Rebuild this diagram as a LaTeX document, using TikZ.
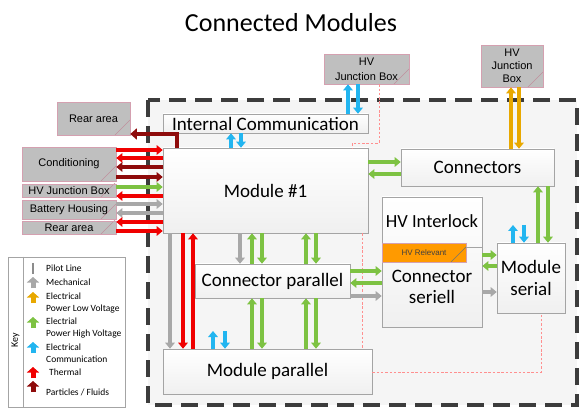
\documentclass[tikz,border=0pt]{standalone}
\usepackage{fontspec}
\setmainfont{Carlito}
\newfontfamily\arialfont{Liberation Sans}
\usetikzlibrary{arrows.meta}

\definecolor{cRed}{HTML}{F00000}
\definecolor{cDark}{HTML}{8E0B0B}
\definecolor{cGreen}{HTML}{7DC242}
\definecolor{cCyan}{HTML}{22B5F0}
\definecolor{cAmber}{HTML}{E8A800}
\definecolor{cGray}{HTML}{A8A8A8}
\definecolor{cOrange}{HTML}{FF9A00}
\definecolor{boxLine}{HTML}{A4A4A4}
\definecolor{extFill}{HTML}{BFBFBF}
\definecolor{extLine}{HTML}{D4A0B0}
\definecolor{pilotCol}{HTML}{FF8F8F}
\definecolor{borderCol}{HTML}{3C3C3C}

\begin{document}
\begin{tikzpicture}[x=1pt,y=-1pt,
  modbox/.style={draw=boxLine, line width=0.6pt, top color=white, bottom color=black!6,
    inner sep=0pt, align=center, font=\fontsize{19}{22}\selectfont},
  extbox/.style={draw=extLine, line width=0.6pt, fill=extFill, inner sep=0pt, align=center,
    font=\arialfont\fontsize{11}{14}\selectfont,
    path picture={\draw[extLine!90!black, line width=0.4pt]
      ([xshift=-15pt]path picture bounding box.south east) --
      ([yshift=15pt]path picture bounding box.south east);}},
  flow/.style={line width=4pt, -{Triangle[width=9.5pt,length=6pt]}},
  thermal/.style={flow, draw=cRed},
  fluid/.style={flow, draw=cDark},
  hvflow/.style={flow, draw=cGreen},
  lvflow/.style={flow, draw=cAmber},
  comflow/.style={flow, draw=cCyan},
  mechflow/.style={flow, draw=cGray},
  pilotline/.style={draw=pilotCol, line width=0.6pt, dash pattern=on 2.5pt off 1.8pt},
  keyarrow/.style={line width=5pt, -{Triangle[width=12pt,length=5.5pt]}},
  keytext/.style={anchor=west, inner sep=0pt, align=left, font=\fontsize{9.5}{11.5}\selectfont}]

\useasboundingbox (0,0) rectangle (579,409);

% title
\node[font=\fontsize{26}{30}\selectfont] (title) at (291,23) {Connected Modules};

% system boundary
\draw[draw=borderCol, fill=black!4, line width=3.5pt, dash pattern=on 17pt off 9pt]
  (148,100) rectangle (577,405);

% modules and connectors inside the boundary
\node[modbox, minimum width=205pt, minimum height=85pt] (m1) at (265.5,190.5) {Module \#1};
\node[modbox, minimum width=205pt, minimum height=19pt] (ic) at (265.5,123.5) {Internal Communication};
\node[modbox, minimum width=153pt, minimum height=37pt] (conn) at (477.5,167.5) {Connectors};
\node[modbox, minimum width=100pt, minimum height=130pt] (hvi) at (432,262) {};
\node[inner sep=0pt, font=\fontsize{18.5}{22}\selectfont] (hvil) at (432,221) {HV Interlock};
\node[draw=extLine, line width=0.5pt, fill=cOrange, inner sep=0pt,
  minimum width=84pt, minimum height=19pt, text=black!75,
  font=\arialfont\fontsize{8}{9}\selectfont,
  path picture={\draw[black!55, line width=0.4pt]
      ([xshift=-15pt]path picture bounding box.south east) --
      ([yshift=15pt]path picture bounding box.south east);}]
  (hvr) at (424,252.5) {HV Relevant};
\draw[boxLine, line width=0.6pt] (hvr.east |- 0,247) -- (hvi.east |- 0,247);
\node[inner sep=0pt, align=center, font=\fontsize{19}{21}\selectfont] (csl) at (432,287) {Connector\\seriell};
\node[modbox, minimum width=68pt, minimum height=70pt, font=\fontsize{19}{22}\selectfont] (ms) at (531,278) {Module\\serial};
\node[modbox, minimum width=155pt, minimum height=34pt] (cp) at (272.5,281) {Connector parallel};
\node[modbox, minimum width=209pt, minimum height=45pt] (mp) at (267.5,371.5) {Module parallel};

% external parts
\node[extbox, minimum width=85pt, minimum height=30pt, font=\arialfont\fontsize{11}{15}\selectfont] (hvj1) at (366.5,69) {HV\\Junction Box};
\node[extbox, minimum width=62pt, minimum height=42pt, font=\arialfont\fontsize{11}{13}\selectfont] (hvj2) at (512,66) {HV\\Junction\\Box};
\node[extbox, minimum width=73pt, minimum height=33pt] (ra1) at (93.5,118.5) {Rear area};
\node[extbox, minimum width=94pt, minimum height=34pt] (cond) at (69,164) {Conditioning};
\node[extbox, minimum width=94pt, minimum height=13pt] (hvj3) at (69,190.5) {HV Junction Box};
\node[extbox, minimum width=94pt, minimum height=19pt] (bh) at (69,209.5) {Battery Housing};
\node[extbox, minimum width=94pt, minimum height=13pt] (ra2) at (69,227.5) {Rear area};

% pilot lines
\draw[pilotline] (hvj1.south -| 379,0) |- (352,143) -- (m1.north -| 352,0);
\draw[pilotline] (m1.south -| 362,0) -- (mp.north -| 362,0);
\draw[pilotline] (mp.east |- 0,372) -| (ms.south -| 541,0);

% flows between the outside parts and module #1
\draw[thermal]  (cond.east |- 0,150) -- (m1.west |- 0,150);
\draw[thermal]  (m1.west |- 0,158) -- (cond.east |- 0,158);
\draw[fluid]    (m1.west |- 0,167) -- (cond.east |- 0,167);
\draw[fluid]    (cond.east |- 0,177) -- (m1.west |- 0,177);
\draw[hvflow]   (hvj3.east |- 0,187) -- (m1.west |- 0,187);
\draw[thermal]  (m1.west |- 0,196) -- (hvj3.east |- 0,196);
\draw[mechflow] (bh.east |- 0,204) -- (m1.west |- 0,204);
\draw[mechflow] (m1.west |- 0,213) -- (bh.east |- 0,213);
\draw[thermal]  (m1.west |- 0,222) -- (ra2.east |- 0,222);
\draw[thermal]  (ra2.east |- 0,231) -- (m1.west |- 0,231);
\draw[fluid, line width=4.5pt, line join=miter, -{Triangle[width=11pt,length=6.5pt]}]
  (m1.north -| 177,0) |- (ra1.east |- 0,134);

% communication
\draw[comflow] (ic.north -| 348,0) -- (hvj1.south -| 348,0);
\draw[comflow] (hvj1.south -| 358,0) -- (ic.north -| 358,0);
\draw[comflow] (m1.north -| 231,0) -- (ic.south -| 231,0);
\draw[comflow] (ic.south -| 241,0) -- (m1.north -| 241,0);
\coordinate (mpc) at (219,331);
\draw[comflow] (mp.north -| 213,0) -- (mpc -| 213,0);
\draw[comflow] (mpc -| 225,0) -- (mp.north -| 225,0);
\coordinate (msc) at (518,225);
\draw[comflow] (ms.north -| 513,0) -- (msc -| 513,0);
\draw[comflow] (msc -| 524,0) -- (ms.north -| 524,0);

% module #1 and connectors
\draw[hvflow] (m1.east |- 0,162) -- (conn.west |- 0,162);
\draw[hvflow] (conn.west |- 0,174) -- (m1.east |- 0,174);
\draw[lvflow] (conn.north -| 511,0) -- (hvj2.south -| 511,0);
\draw[lvflow] (hvj2.south -| 519,0) -- (conn.north -| 519,0);
\draw[hvflow] (ms.north -| 538,0) -- (conn.south -| 538,0);
\draw[hvflow] (conn.south -| 548,0) -- (ms.north -| 548,0);

% module #1 down to the parallel connector
\draw[mechflow] (m1.south -| 240,0) -- (cp.north -| 240,0);
\draw[hvflow] (cp.north -| 252,0) -- (m1.south -| 252,0);
\draw[hvflow] (m1.south -| 262,0) -- (cp.north -| 262,0);
\draw[hvflow] (cp.north -| 306,0) -- (m1.south -| 306,0);
\draw[hvflow] (m1.south -| 316,0) -- (cp.north -| 316,0);

% parallel connector down to the parallel module
\draw[hvflow] (mp.north -| 252,0) -- (cp.south -| 252,0);
\draw[hvflow] (cp.south -| 262,0) -- (mp.north -| 262,0);
\draw[hvflow] (mp.north -| 306,0) -- (cp.south -| 306,0);
\draw[hvflow] (cp.south -| 316,0) -- (mp.north -| 316,0);

% module #1 straight to the parallel module
\draw[mechflow] (m1.south -| 170,0) -- (mp.north -| 170,0);
\draw[thermal]  (m1.south -| 183,0) -- (mp.north -| 183,0);
\draw[thermal]  (mp.north -| 193,0) -- (m1.south -| 193,0);

% parallel connector to the serial connector
\draw[hvflow]   (cp.east |- 0,271) -- (hvi.west |- 0,271);
\draw[hvflow]   (hvi.west |- 0,283) -- (cp.east |- 0,283);
\draw[mechflow] (cp.east |- 0,296) -- (hvi.west |- 0,296);

% serial connector to the serial module
\draw[hvflow]   (hvi.east |- 0,255) -- (ms.west |- 0,255);
\draw[hvflow]   (ms.west |- 0,266) -- (hvi.east |- 0,266);
\draw[mechflow] (hvi.east |- 0,292) -- (ms.west |- 0,292);

% key
\node[draw=boxLine, line width=0.6pt, fill=white, minimum width=117pt, minimum height=150pt, inner sep=0pt] (key) at (66.5,332) {};
\draw[boxLine, line width=0.6pt] (key.north -| 23,0) -- (key.south -| 23,0);
\node[rotate=90, inner sep=0pt, font=\fontsize{10}{12}\selectfont] (keyt) at (15.5,340) {Key};
\draw[black!45, line width=1.3pt] (33,263) -- (33,274);
\node[keytext] (k1) at (46,268) {Pilot Line};
\draw[keyarrow, draw=cGray] (33,288) -- (33,277);
\node[keytext] (k2) at (46,282) {Mechanical};
\draw[keyarrow, draw=cAmber] (33,303) -- (33,292);
\node[keytext] (k3) at (46,303) {Electrical\\Power Low Voltage};
\draw[keyarrow, draw=cGreen] (33,328) -- (33,317);
\node[keytext] (k4) at (46,328) {Electrial\\Power High Voltage};
\draw[keyarrow, draw=cCyan] (33,353) -- (33,342);
\node[keytext] (k5) at (46,353) {Electrical\\Communication};
\draw[keyarrow, draw=cRed] (33,378) -- (33,367);
\node[keytext] (k6) at (49,372) {Thermal};
\draw[keyarrow, draw=cDark] (33,392) -- (33,381);
\node[keytext] (k7) at (46,392) {Particles / Fluids};

\end{tikzpicture}
\end{document}
